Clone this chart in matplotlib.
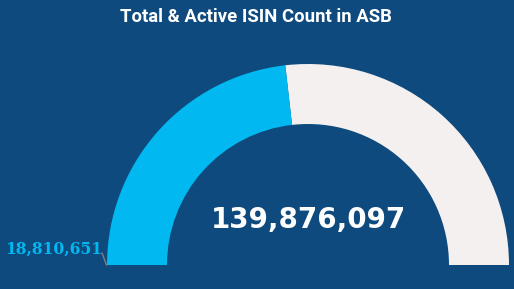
import matplotlib.pyplot as plt
from matplotlib.patches import Wedge

# --- data ---
title = "Total & Active ISIN Count in ASB"
min_value = 18810651
value = 139876097
max_value = 279752194

bg = "#0E4A7E"
fill_color = "#01B8F1"
rest_color = "#F3F0EF"

fig = plt.figure(figsize=(5.14, 2.89), dpi=100)
fig.patch.set_facecolor(bg)
ax = fig.add_axes([0, 0, 1, 1])
ax.set_xlim(0, 514)
ax.set_ylim(0, 289)
ax.axis("off")

# gauge geometry (pixels, y up)
cx, cy = 308, 24
r_out, width = 201, 60

frac = (value - min_value) / (max_value - min_value)
split = 180 - frac * 180

ax.add_patch(Wedge((cx, cy), r_out, 0, split, width=width, facecolor=rest_color, edgecolor="none"))
ax.add_patch(Wedge((cx, cy), r_out, split, 180, width=width, facecolor=fill_color, edgecolor="none"))

# min label + leader line
ax.plot([102, 106.5], [36, 24], color="#7f7f7f", lw=1)
ax.text(54, 40, f"{min_value:,}", color=fill_color, fontsize=11.2, fontweight="bold",
        family="DejaVu Serif", ha="center", va="center")

# value in middle
ax.text(308, 69, f"{value:,}", color="white", fontsize=20, fontweight="bold",
        family="DejaVu Sans", ha="center", va="center")

# title
ax.text(256, 272, title, color="white", fontsize=13.3, fontweight="bold",
        family="Roboto", ha="center", va="center")

fig.savefig("out.png", dpi=100, facecolor=bg)
